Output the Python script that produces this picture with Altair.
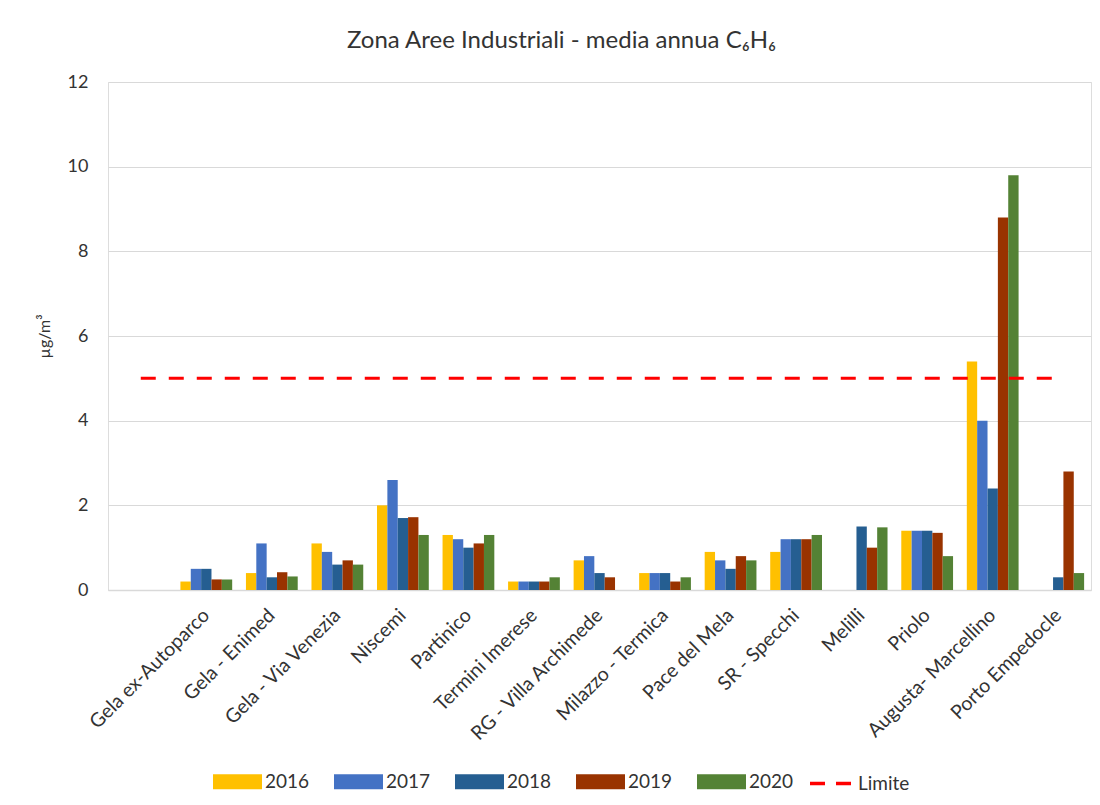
import altair as alt
import pandas as pd

# ---- data ----
stazioni = ["", "Gela ex-Autoparco", "Gela - Enimed", "Gela - Via Venezia", "Niscemi",
            "Partinico", "Termini Imerese", "RG - Villa Archimede", "Milazzo - Termica",
            "Pace del Mela", "SR - Specchi", "Melilli", "Priolo", "Augusta- Marcellino",
            "Porto Empedocle"]
anni = ["2016", "2017", "2018", "2019", "2020"]
colori = ["#FFC000", "#4472C4", "#255E91", "#993300", "#548235"]

v2016 = [None, 0.2, 0.4, 1.1, 2.0, 1.3, 0.2, 0.7, 0.4, 0.9, 0.9, None, 1.4, 5.4, None]
v2017 = [None, 0.5, 1.1, 0.9, 2.6, 1.2, 0.2, 0.8, 0.4, 0.7, 1.2, None, 1.4, 4.0, None]
v2018 = [None, 0.5, 0.3, 0.6, 1.7, 1.0, 0.2, 0.4, 0.4, 0.5, 1.2, 1.5, 1.4, 2.4, 0.3]
v2019 = [None, 0.25, 0.42, 0.7, 1.72, 1.1, 0.2, 0.3, 0.2, 0.8, 1.2, 1.0, 1.35, 8.8, 2.8]
v2020 = [None, 0.25, 0.32, 0.6, 1.3, 1.3, 0.3, None, 0.3, 0.7, 1.3, 1.48, 0.8, 9.8, 0.4]
limite = [5] * len(stazioni)

serie = {"2016": v2016, "2017": v2017, "2018": v2018, "2019": v2019, "2020": v2020}

rows = []
for anno in anni:
    for s, v in zip(stazioni, serie[anno]):
        if v is not None:
            rows.append({"stazione": s, "anno": anno, "valore": v})
bars_df = pd.DataFrame(rows)
lim_df = pd.DataFrame({"stazione": stazioni, "valore": limite, "serie": ["Limite"] * len(stazioni)})

FONT = "Lato"
TXT = "#333333"

x_scale = alt.Scale(domain=stazioni, paddingInner=0.21, paddingOuter=0.105)
x_axis = alt.Axis(title=None, labelAngle=-45, labelAlign="right", labelBaseline="middle",
                  labelPadding=22, labelFontSize=19.5, labelFont=FONT, labelColor=TXT,
                  ticks=False, domainColor="#D9D9D9", domainWidth=1.5, labelLimit=300)

bars = alt.Chart(bars_df).mark_bar().encode(
    x=alt.X("stazione:N", sort=stazioni, scale=x_scale, axis=x_axis),
    xOffset=alt.XOffset("anno:N", sort=anni, scale=alt.Scale(domain=anni, paddingInner=0, paddingOuter=0)),
    y=alt.Y("valore:Q",
            scale=alt.Scale(domain=[0, 12]),
            axis=alt.Axis(title="µg/m³", values=[0, 2, 4, 6, 8, 10, 12], grid=True,
                          gridColor="#D9D9D9", gridWidth=1.2, domain=False, ticks=False,
                          labelPadding=20, labelFontSize=18, labelFont=FONT, labelColor=TXT,
                          titleFont=FONT, titleFontSize=16, titleFontWeight="normal",
                          titleColor=TXT, titlePadding=15)),
    color=alt.Color("anno:N", sort=anni, scale=alt.Scale(domain=anni, range=colori),
                    legend=alt.Legend(title=None, orient="none", direction="horizontal",
                                      legendX=105, legendY=675,
                                      symbolType="M-1,-0.31H1V0.31H-1Z", symbolSize=2401,
                                      symbolStrokeWidth=0, symbolOpacity=1,
                                      labelFont=FONT, labelFontSize=19, labelColor=TXT,
                                      labelOffset=3, columnPadding=24, padding=0)),
)

line = alt.Chart(lim_df).mark_line(strokeDash=[15, 13], strokeWidth=3).encode(
    x=alt.X("stazione:N", sort=stazioni, scale=x_scale, axis=x_axis),
    y=alt.Y("valore:Q"),
    stroke=alt.Stroke("serie:N", scale=alt.Scale(domain=["Limite"], range=["#FF0000"]),
                      legend=alt.Legend(title=None, orient="none", legendX=700, legendY=679,
                                        symbolType="stroke", symbolSize=1681,
                                        symbolStrokeWidth=3.5, symbolDash=[15, 11],
                                        labelFont=FONT, labelFontSize=19, labelColor=TXT,
                                        labelOffset=5, padding=0)),
)

chart = alt.layer(bars, line).properties(
    width=983,
    height=508,
    autosize=alt.AutoSizeParams(type="none"),
    padding={"left": 100, "top": 74, "right": 1, "bottom": 205},
    title=alt.Title("Zona Aree Industriali  - media annua C₆H₆", font=FONT, fontSize=24,
                    fontWeight="normal", color=TXT, anchor="middle", offset=20, dx=-38),
).configure_view(stroke=None).configure(background="white")

chart.save("out.html", embed_options={"renderer": "svg", "actions": False})
